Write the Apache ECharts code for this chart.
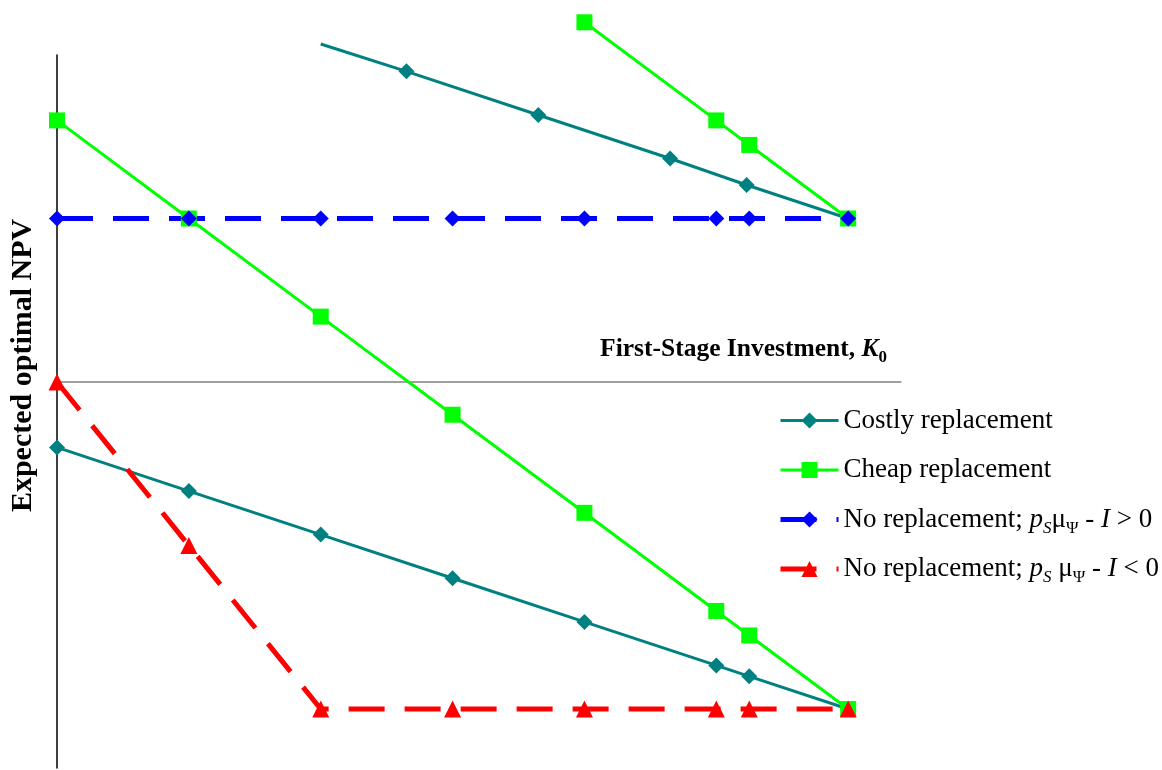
<!DOCTYPE html>
<html>
<head>
<meta charset="utf-8">
<script src="https://cdn.jsdelivr.net/npm/echarts@6/dist/echarts.min.js"></script>
<style>
  html, body { margin: 0; padding: 0; background: #ffffff; }
  #chart { width: 1162px; height: 770px; }
</style>
</head>
<body>
<div id="chart"></div>
<script>
// First-stage investment levels (shared by the lower branches and the no-replacement lines)
const investment = [0, 1, 2, 3, 4, 5, 5.25, 6];

// Costly replacement: lower branch and upper branch
const costlyLower = [-0.4, -0.667, -0.933, -1.2, -1.467, -1.733, -1.8, -2.0];
const costlyUpperX = [2, 2.65, 3.65, 4.65, 5.23, 6];
const costlyUpper = [2.067, 1.9, 1.633, 1.367, 1.205, 1.0];

// Cheap replacement: lower branch and upper branch
const cheapLower = [1.6, 1.0, 0.4, -0.2, -0.8, -1.4, -1.55, -2.0];
const cheapUpperX = [4, 5, 5.25, 6];
const cheapUpper = [2.2, 1.6, 1.45, 1.0];

// No replacement, for positive and negative p_S·μ_Ψ − I
const noReplPositive = [1, 1, 1, 1, 1, 1, 1, 1];
const noReplNegative = [0, -1, -2, -2, -2, -2, -2, -2];

const NAME_COSTLY = 'Costly replacement';
const NAME_CHEAP = 'Cheap replacement';
const NAME_POS = 'No replacement; pSμΨ - I > 0';
const NAME_NEG = 'No replacement; pSμΨ - I < 0';

const FONT = "'Liberation Serif', 'Times New Roman', serif";
const TEAL = '#008080';
const GREEN = '#00ff00';
const BLUE = '#0000ff';
const RED = '#ff0000';

function pairs(xs, ys) {
  return xs.map((x, i) => [x, ys[i]]);
}

// The upper costly branch starts without a marker
const costlyUpperData = pairs(costlyUpperX, costlyUpper).map((p, i) =>
  i === 0 ? { value: p, symbol: 'none' } : p
);

const chart = echarts.init(document.getElementById('chart'));

chart.setOption({
  animation: false,
  backgroundColor: '#ffffff',
  grid: { left: 55, top: 55, width: 845.9, height: 712.9, containLabel: false },
  xAxis: {
    type: 'value',
    min: 0,
    max: 6.4,
    axisLine: { onZero: true, lineStyle: { color: '#808080', width: 1.5 } },
    axisTick: { show: false },
    axisLabel: { show: false },
    splitLine: { show: false },
    name: '{b|First-Stage Investment, }{k|K}{s|0}',
    nameLocation: 'end',
    nameGap: -14,
    nameTextStyle: {
      align: 'right',
      verticalAlign: 'bottom',
      padding: [0, 0, 18, 0],
      rich: {
        b: { fontFamily: FONT, fontWeight: 'bold', fontSize: 25.5, lineHeight: 30, color: '#000' },
        k: { fontFamily: FONT, fontWeight: 'bold', fontStyle: 'italic', fontSize: 25.5, lineHeight: 30, color: '#000' },
        s: { fontFamily: FONT, fontWeight: 'bold', fontSize: 17, lineHeight: 30, padding: [18, 0, 0, 0], color: '#000' }
      }
    }
  },
  yAxis: {
    type: 'value',
    min: -2.36,
    max: 2.0,
    axisLine: { onZero: false, lineStyle: { color: '#000000', width: 1.5 } },
    axisTick: { show: false },
    axisLabel: { show: false },
    splitLine: { show: false },
    name: 'Expected optimal NPV',
    nameLocation: 'middle',
    nameRotate: 90,
    nameGap: 19,
    nameTextStyle: {
      fontFamily: FONT,
      fontWeight: 'bold',
      fontSize: 30,
      color: '#000',
      padding: [0, 0, 0, 92]
    }
  },
  legend: {
    orient: 'vertical',
    left: 778,
    top: 403,
    padding: 0,
    itemWidth: 58,
    itemHeight: 20,
    itemGap: 14.5,
    data: [
      { name: NAME_COSTLY, lineStyle: { width: 3 } },
      { name: NAME_CHEAP, lineStyle: { width: 3 } },
      { name: NAME_POS, lineStyle: { width: 5, type: [36, 20] } },
      { name: NAME_NEG, lineStyle: { width: 5, type: [36, 20] } }
    ],
    textStyle: {
      fontFamily: FONT,
      fontSize: 27,
      lineHeight: 30,
      color: '#000',
      rich: {
        t: { fontFamily: FONT, fontSize: 27, lineHeight: 30, color: '#000' },
        i: { fontFamily: FONT, fontStyle: 'italic', fontSize: 27, lineHeight: 30, color: '#000' },
        si: { fontFamily: FONT, fontStyle: 'italic', fontSize: 17, lineHeight: 30, padding: [18, 0, 0, 0], color: '#000' },
        s: { fontFamily: FONT, fontSize: 17, lineHeight: 30, padding: [18, 0, 0, 0], color: '#000' }
      }
    },
    formatter: function (name) {
      if (name === NAME_POS) return '{t|No replacement; }{i|p}{si|S}{t|μ}{s|Ψ}{t| - }{i|I}{t| > 0}';
      if (name === NAME_NEG) return '{t|No replacement; }{i|p}{si|S}{t| μ}{s|Ψ}{t| - }{i|I}{t| < 0}';
      // trailing blank subscript keeps every legend row the same height
      return '{t|' + name + '}{s| }';
    }
  },
  series: [
    {
      name: NAME_COSTLY, type: 'line', clip: false,
      data: costlyUpperData,
      symbol: 'diamond', symbolSize: 16,
      itemStyle: { color: TEAL },
      lineStyle: { color: TEAL, width: 3 }
    },
    {
      name: NAME_COSTLY, type: 'line', clip: false,
      data: pairs(investment, costlyLower),
      symbol: 'diamond', symbolSize: 16,
      itemStyle: { color: TEAL },
      lineStyle: { color: TEAL, width: 3 }
    },
    {
      name: NAME_CHEAP, type: 'line', clip: false,
      data: pairs(cheapUpperX, cheapUpper),
      symbol: 'rect', symbolSize: 16,
      itemStyle: { color: GREEN },
      lineStyle: { color: GREEN, width: 3 }
    },
    {
      name: NAME_CHEAP, type: 'line', clip: false,
      data: pairs(investment, cheapLower),
      symbol: 'rect', symbolSize: 16,
      itemStyle: { color: GREEN },
      lineStyle: { color: GREEN, width: 3 }
    },
    {
      name: NAME_POS, type: 'line', clip: false,
      data: pairs(investment, noReplPositive),
      symbol: 'diamond', symbolSize: 16,
      itemStyle: { color: BLUE },
      lineStyle: { color: BLUE, width: 5, type: [36, 20] }
    },
    {
      name: NAME_NEG, type: 'line', clip: false,
      data: pairs(investment, noReplNegative),
      symbol: 'triangle', symbolSize: 17,
      itemStyle: { color: RED },
      lineStyle: { color: RED, width: 5, type: [36, 20] }
    }
  ]
});
</script>
</body>
</html>
